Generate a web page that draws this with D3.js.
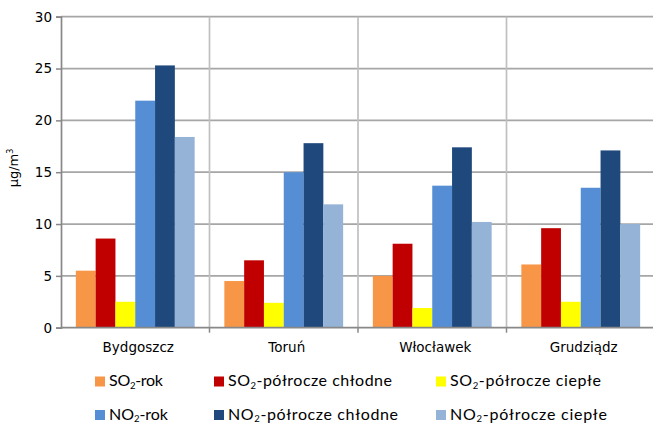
<!DOCTYPE html>
<html><head><meta charset="utf-8">
<script src="https://cdn.jsdelivr.net/npm/d3@7"></script>
<style>body{margin:0;background:#fff}svg{display:block}</style>
</head><body>
<svg id="c" width="653" height="425"></svg>
<script>
const categories = ["Bydgoszcz", "Toruń", "Włocławek", "Grudziądz"];
const seriesNames = ["SO2-rok", "SO2-półrocze chłodne", "SO2-półrocze ciepłe", "NO2-rok", "NO2-półrocze chłodne", "NO2-półrocze ciepłe"];
const so2Rok = [5.5, 4.5, 5.0, 6.1];
const so2Chlodne = [8.6, 6.5, 8.1, 9.6];
const so2Cieple = [2.5, 2.4, 1.9, 2.5];
const no2Rok = [21.9, 15.0, 13.7, 13.5];
const no2Chlodne = [25.3, 17.8, 17.4, 17.1];
const no2Cieple = [18.4, 11.9, 10.2, 10.0];
const yTicks = [0, 5, 10, 15, 20, 25, 30];
const colors = ["#F79646", "#C00000", "#FFFF00", "#558ED5", "#1F497D", "#95B3D7"];
const seriesValues = [so2Rok, so2Chlodne, so2Cieple, no2Rok, no2Chlodne, no2Cieple];

const svg = d3.select("#c");
const m = {l: 61, r: 655, t: 16.7, b: 327.7};
const x0 = d3.scaleBand().domain(categories).range([m.l, m.r]).paddingInner(0.2).paddingOuter(0.1);
const x1 = d3.scaleBand().domain(d3.range(seriesNames.length)).range([0, x0.bandwidth()]);
const y = d3.scaleLinear().domain([0, 30]).range([m.b, m.t]);

// horizontal gridlines
svg.append("g").selectAll("line").data(yTicks.filter(d => d > 0)).join("line")
  .attr("x1", m.l).attr("x2", m.r).attr("y1", d => y(d)).attr("y2", d => y(d))
  .attr("stroke", "#a6a6a6").attr("stroke-width", 1.7);
// vertical gridlines between categories
const step = x0.step();
svg.append("g").selectAll("line").data(categories.slice(1)).join("line")
  .attr("x1", d => x0(d) - step * 0.1).attr("x2", d => x0(d) - step * 0.1)
  .attr("y1", m.t).attr("y2", m.b)
  .attr("stroke", "#c0c0c0").attr("stroke-width", 1.7);

// bars
categories.forEach((c, ci) => {
  seriesValues.forEach((vals, si) => {
    svg.append("rect")
      .attr("x", x0(c) + x1(si)).attr("width", x1.bandwidth())
      .attr("y", y(vals[ci])).attr("height", y(0) - y(vals[ci]))
      .attr("fill", colors[si]);
  });
});

// y axis
const yAxis = d3.axisLeft(y).tickValues(yTicks).tickSize(5).tickPadding(4);
const gy = svg.append("g").attr("transform", `translate(${m.l},0)`).call(yAxis);
gy.select(".domain").attr("stroke", "#888").attr("stroke-width", 1.7);
gy.selectAll(".tick line").attr("stroke", "#888").attr("stroke-width", 1.5);
gy.selectAll("text").attr("font-family", "DejaVu Sans").attr("font-size", 13.5).attr("fill", "#000");

// x axis
const gx = svg.append("g").attr("transform", `translate(0,${m.b})`);
gx.append("line").attr("x1", m.l).attr("x2", m.r).attr("stroke", "#888").attr("stroke-width", 1.7);
gx.selectAll("line.t").data(categories.slice(1)).join("line").attr("class", "t")
  .attr("x1", d => x0(d) - step * 0.1).attr("x2", d => x0(d) - step * 0.1)
  .attr("y1", 0).attr("y2", 5).attr("stroke", "#888").attr("stroke-width", 1.5);
gx.selectAll("text").data(categories).join("text")
  .attr("x", d => x0(d) + x0.bandwidth() / 2 + 3).attr("y", 24)
  .attr("text-anchor", "middle").attr("font-family", "DejaVu Sans").attr("font-size", 13.5)
  .text(d => d);

// y title
const yt = svg.append("text").attr("transform", "translate(18,168) rotate(-90)")
  .attr("text-anchor", "middle").attr("font-family", "DejaVu Sans").attr("font-size", 13);
yt.append("tspan").text("µg/m");
yt.append("tspan").attr("dy", -5).attr("font-size", 8).text("3");

// legend
const lx = [95, 214, 436];
const ly = [386, 419.5];
const lw = [54, 164, 151, 59, 170, 157];
seriesNames.forEach((name, i) => {
  const cx = lx[i % 3], cy = ly[Math.floor(i / 3)];
  svg.append("rect").attr("x", cx).attr("y", cy - 9.5).attr("width", 10).attr("height", 10).attr("fill", colors[i]);
  const t = svg.append("text").attr("x", cx + 14).attr("y", cy)
    .attr("font-family", "Lato").attr("font-size", 16).attr("fill", "#000")
    .attr("textLength", lw[i]).attr("lengthAdjust", "spacing");
  const parts = name.split("2");
  t.append("tspan").text(parts[0]);
  t.append("tspan").attr("dy", 2.5).attr("font-size", 9.5).text("2");
  t.append("tspan").attr("dy", -2.5).text(parts.slice(1).join("2"));
});
</script>
</body></html>
